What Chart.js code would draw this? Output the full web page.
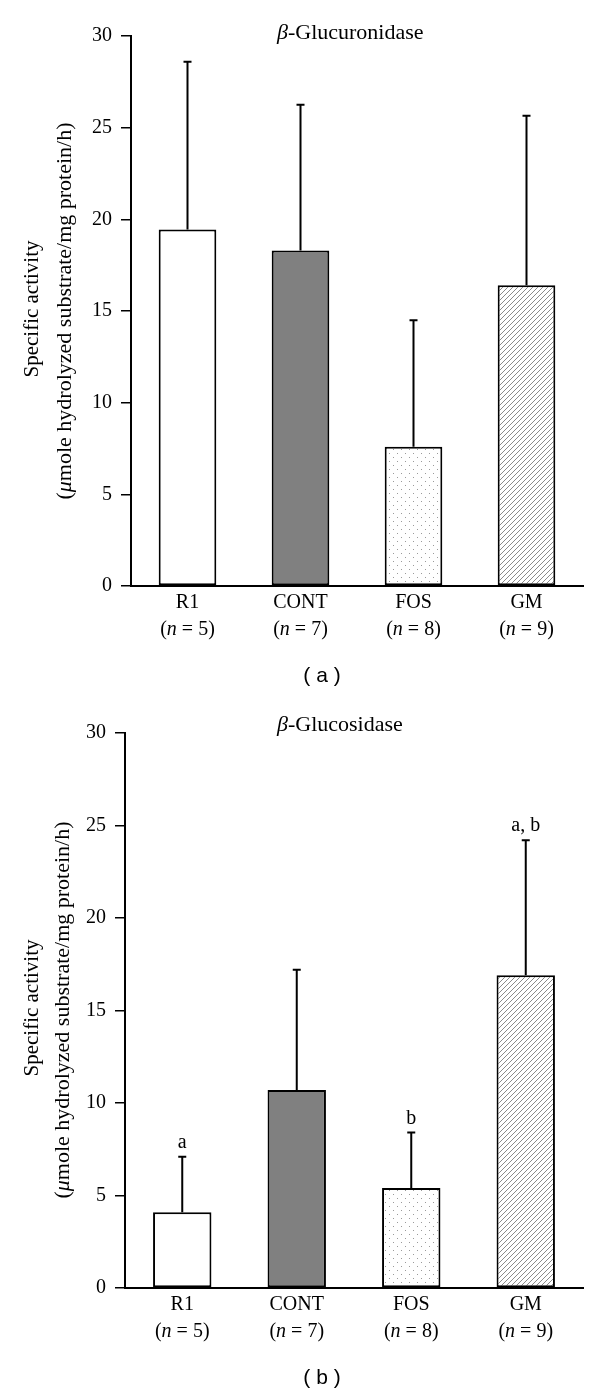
<!DOCTYPE html>
<html><head><meta charset="utf-8">
<script src="https://cdn.jsdelivr.net/npm/chart.js@4"></script>
<style>
html,body{margin:0;padding:0;background:#fff;}
.wrap{position:absolute;left:0;width:600px;height:697px;}
canvas{display:block;}
</style></head>
<body>
<div class="wrap" style="top:0"><canvas id="c1" width="600" height="697"></canvas></div>
<div class="wrap" style="top:697px"><canvas id="c2" width="600" height="697"></canvas></div>
<script>
const categories = ['R1', 'CONT', 'FOS', 'GM'];
const groupSizes = [5, 7, 8, 9];
const yTicks = [0, 5, 10, 15, 20, 25, 30];
const glucuronidaseMean = [19.45, 18.3, 7.6, 16.4];
const glucuronidaseSD = [9.15, 7.95, 6.9, 9.25];
const glucuronidaseLetters = ['', '', '', ''];
const glucosidaseMean = [4.1, 10.7, 5.4, 16.9];
const glucosidaseSD = [3.0, 6.5, 3.0, 7.3];
const glucosidaseLetters = ['a', '', 'b', 'a, b'];

const SERIF = '"Liberation Serif", "DejaVu Serif", serif';
const SANS = '"Liberation Sans", "DejaVu Sans", sans-serif';

function makeDots() {
  const c = document.createElement('canvas'); c.width = 8; c.height = 8;
  const g = c.getContext('2d');
  g.fillStyle = '#fff'; g.fillRect(0, 0, 8, 8);
  g.fillStyle = '#9a9a9a';
  g.fillRect(1, 1, 1, 1); g.fillRect(5, 5, 1, 1);
  return g.createPattern(c, 'repeat');
}
function makeHatch() {
  const s = 5;
  const c = document.createElement('canvas'); c.width = s; c.height = s;
  const g = c.getContext('2d');
  g.fillStyle = '#fff'; g.fillRect(0, 0, s, s);
  g.strokeStyle = '#8a8a8a'; g.lineWidth = 1;
  g.beginPath();
  g.moveTo(0, s); g.lineTo(s, 0);
  g.moveTo(-1, 1); g.lineTo(1, -1);
  g.moveTo(s - 1, s + 1); g.lineTo(s + 1, s - 1);
  g.stroke();
  return g.createPattern(c, 'repeat');
}

const decoPlugin = {
  id: 'deco',
  afterDatasetsDraw(chart) {
    const o = chart.options.plugins.deco;
    const ctx = chart.ctx;
    const y = chart.scales.y;
    const meta = chart.getDatasetMeta(0);
    const ds = chart.data.datasets[0];
    ctx.save();
    ctx.strokeStyle = '#000'; ctx.lineWidth = 2;
    meta.data.forEach((bar, i) => {
      const top = y.getPixelForValue(ds.data[i] + o.sd[i]);
      const base = y.getPixelForValue(ds.data[i]);
      ctx.beginPath();
      ctx.moveTo(bar.x, base); ctx.lineTo(bar.x, top);
      ctx.moveTo(bar.x - 4, top); ctx.lineTo(bar.x + 4, top);
      ctx.stroke();
      if (o.letters[i]) {
        ctx.fillStyle = '#000';
        ctx.font = '20px ' + SERIF;
        ctx.textAlign = 'center'; ctx.textBaseline = 'alphabetic';
        ctx.fillText(o.letters[i], bar.x, top - 9);
      }
      // x labels
      const ay = chart.chartArea.bottom;
      ctx.fillStyle = '#000';
      ctx.font = '20px ' + SERIF;
      ctx.textAlign = 'center'; ctx.textBaseline = 'middle';
      ctx.fillText(categories[i], bar.x, ay + 17);
      const p1 = '(', nI = 'n', p2 = ' = ' + groupSizes[i] + ')';
      ctx.font = '20px ' + SERIF; const w1 = ctx.measureText(p1).width, w3 = ctx.measureText(p2).width;
      ctx.font = 'italic 20px ' + SERIF; const w2 = ctx.measureText(nI).width;
      let sx = bar.x - (w1 + w2 + w3) / 2;
      ctx.textAlign = 'left';
      ctx.font = '20px ' + SERIF; ctx.fillText(p1, sx, ay + 44);
      ctx.font = 'italic 20px ' + SERIF; ctx.fillText(nI, sx + w1, ay + 44);
      ctx.font = '20px ' + SERIF; ctx.fillText(p2, sx + w1 + w2, ay + 44);
    });
    // title
    ctx.textBaseline = 'middle'; ctx.textAlign = 'left';
    ctx.font = 'italic 22px ' + SERIF;
    const bw = ctx.measureText('β').width;
    ctx.fillText('β', o.titleX, o.titleY);
    ctx.font = '22px ' + SERIF;
    ctx.fillText(o.title, o.titleX + bw, o.titleY);
    // y axis title
    ctx.save();
    ctx.translate(0, o.yTitleY);
    ctx.rotate(-Math.PI / 2);
    ctx.font = '21px ' + SERIF; ctx.textAlign = 'center';
    ctx.fillText('Specific activity', 2, 32);
    const a = '(', m = 'μ', b = 'mole hydrolyzed substrate/mg protein/h)';
    ctx.font = '22px ' + SERIF; const wa = ctx.measureText(a).width, wb = ctx.measureText(b).width;
    ctx.font = 'italic 22px ' + SERIF; const wm = ctx.measureText(m).width;
    let tx = -(wa + wm + wb) / 2;
    ctx.textAlign = 'left';
    ctx.font = '22px ' + SERIF; ctx.fillText(a, tx, o.yTitle2X);
    ctx.font = 'italic 22px ' + SERIF; ctx.fillText(m, tx + wa, o.yTitle2X);
    ctx.font = '22px ' + SERIF; ctx.fillText(b, tx + wa + wm, o.yTitle2X);
    ctx.restore();
    // panel label
    ctx.font = '21px ' + SANS; ctx.textAlign = 'center';
    ctx.fillText(o.panel, 322, o.panelY);
    ctx.restore();
  }
};

function build(id, means, sds, letters, title, left, bottomH, panel, panelY, titleY, yTitleY, yTitle2X) {
  const fills = ['#ffffff', '#808080', makeDots(), makeHatch()];
  return new Chart(document.getElementById(id), {
    type: 'bar',
    data: {
      labels: categories,
      datasets: [{
        data: means,
        backgroundColor: fills,
        borderColor: '#000',
        borderWidth: 2,
        borderSkipped: false,
        barPercentage: 0.51,
        categoryPercentage: 1.0
      }]
    },
    options: {
      responsive: false,
      animation: false,
      events: [],
      layout: { padding: { top: 36, right: 17, left: 0, bottom: 0 } },
      plugins: {
        legend: { display: false },
        tooltip: { enabled: false },
        deco: { sd: sds, letters: letters, title: title, titleX: 277, titleY: titleY,
                panel: panel, panelY: panelY, yTitleY: yTitleY, yTitle2X: yTitle2X }
      },
      scales: {
        x: {
          ticks: { display: false },
          grid: { display: false },
          border: { display: true, color: '#000', width: 2 },
          afterFit(s) { s.height = bottomH; }
        },
        y: {
          min: 0, max: 30,
          afterBuildTicks(s) { s.ticks = yTicks.map(v => ({ value: v })); },
          ticks: { color: '#000', font: { family: SERIF, size: 20 }, padding: 9 },
          grid: { drawOnChartArea: false, drawTicks: true, tickLength: 10, color: '#000', lineWidth: 1.5 },
          border: { display: true, color: '#000', width: 2 },
          afterFit(s) { s.width = left; }
        }
      }
    },
    plugins: [decoPlugin]
  });
}

build('c1', glucuronidaseMean, glucuronidaseSD, glucuronidaseLetters, '-Glucuronidase', 131, 111, '( a )', 676, 33, 311, 65);
build('c2', glucosidaseMean, glucosidaseSD, glucosidaseLetters, '-Glucosidase', 125, 106, '( b )', 681, 28, 313, 63);
</script>
</body></html>
